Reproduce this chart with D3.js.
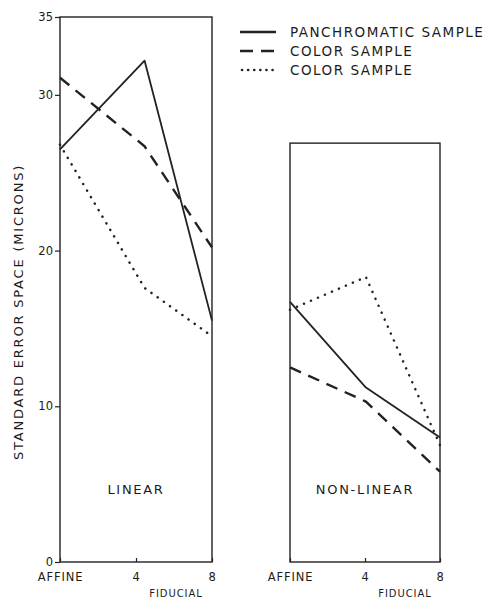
<!DOCTYPE html>
<html>
<head>
<meta charset="utf-8">
<script src="https://cdn.jsdelivr.net/npm/d3@7"></script>
<style>
  body { margin: 0; background: #fff; }
  text { font-family: "DejaVu Sans", sans-serif; fill: #1c1c1c; }
</style>
</head>
<body>
<div id="chart"></div>
<script>
var yTicks = [0, 10, 20, 30, 35]
var xTicks = [0, 4, 8]
var xTickLabels = ['AFFINE', '4', '8']
// 左图 LINEAR
var linearX = [0, 4.45, 8]
var linearPan = [26.5, 32.2, 15.5]
var linearColorDash = [31.1, 26.7, 20.2]
var linearColorDot = [26.8, 17.6, 14.5]
// 右图 NON-LINEAR
var nonLinearX = [0, 4.05, 8]
var nonLinearPan = [16.7, 11.2, 8.0]
var nonLinearColorDash = [12.5, 10.3, 5.8]
var nonLinearColorDot = [16.2, 18.3, 7.5]
var legendLabels = ['PANCHROMATIC SAMPLE', 'COLOR SAMPLE', 'COLOR SAMPLE']

var width = 488
var height = 599
var ink = '#222'
var styles = [
    { width: 1.8, dash: null },
    { width: 2.4, dash: '12,8' },
    { width: 2.5, dash: '0.1,7.5', cap: 'round' }
]

var svg = d3.select('#chart').append('svg')
    .attr('width', width)
    .attr('height', height)

var Y = d3.scaleLinear().domain([0, 35]).range([562, 17])
var XL = d3.scaleLinear().domain([0, 8]).range([60, 212])
var XR = d3.scaleLinear().domain([0, 8]).range([290, 440])

function panel(X, top, xs, series, label) {
    var g = svg.append('g')
    g.append('rect')
        .attr('x', X(0))
        .attr('y', Y(top))
        .attr('width', X(8) - X(0))
        .attr('height', Y(0) - Y(top))
        .attr('fill', 'none')
        .attr('stroke', ink)
        .attr('stroke-width', 1.4)

    var xAxis = g.append('g')
        .attr('transform', 'translate(0,' + Y(0) + ')')
        .call(d3.axisBottom(X).tickValues(xTicks).tickSize(-4).tickPadding(11)
            .tickFormat(function (d, i) { return xTickLabels[i] }))
    xAxis.select('.domain').remove()
    xAxis.selectAll('line').attr('stroke', ink).attr('stroke-width', 1.2)
    xAxis.selectAll('text')
        .attr('font-size', 11.5)
        .attr('fill', '#1c1c1c')
        .attr('letter-spacing', 0.9)

    g.append('text')
        .attr('x', (X(0) + X(8)) / 2)
        .attr('y', 494)
        .attr('text-anchor', 'middle')
        .attr('font-size', 13)
        .attr('letter-spacing', 1.7)
        .text(label)

    g.append('text')
        .attr('x', X(4) + 40)
        .attr('y', 597)
        .attr('text-anchor', 'middle')
        .attr('font-size', 10)
        .attr('letter-spacing', 0.9)
        .text('FIDUCIAL')

    var line = d3.line()
        .x(function (d, i) { return X(xs[i]) })
        .y(function (d) { return Y(d) })

    series.forEach(function (s, i) {
        g.append('path')
            .attr('d', line(s))
            .attr('fill', 'none')
            .attr('stroke', ink)
            .attr('stroke-width', styles[i].width)
            .attr('stroke-dasharray', styles[i].dash)
            .attr('stroke-linecap', styles[i].cap || 'butt')
            .attr('stroke-linejoin', 'round')
    })
}

panel(XL, 35, linearX, [linearPan, linearColorDash, linearColorDot], 'LINEAR')
panel(XR, 26.9, nonLinearX, [nonLinearPan, nonLinearColorDash, nonLinearColorDot], 'NON-LINEAR')

// y轴
var yAxis = svg.append('g')
    .attr('transform', 'translate(' + XL(0) + ',0)')
    .call(d3.axisLeft(Y).tickValues(yTicks).tickSize(5).tickPadding(2))
yAxis.select('.domain').remove()
yAxis.selectAll('line').attr('stroke', ink).attr('stroke-width', 1.2)
yAxis.selectAll('text').attr('font-size', 11.5).attr('fill', '#1c1c1c')

svg.append('text')
    .attr('transform', 'translate(23,312) rotate(-90)')
    .attr('text-anchor', 'middle')
    .attr('font-size', 13)
    .attr('letter-spacing', 1.8)
    .text('STANDARD ERROR SPACE (MICRONS)')

// 图例
var legend = svg.append('g')
    .selectAll('g')
    .data(legendLabels)
    .enter()
    .append('g')
    .attr('transform', function (d, i) { return 'translate(240,' + (32 + i * 19) + ')' })
legend.append('line')
    .attr('x1', function (d, i) { return i == 2 ? 2 : 0 })
    .attr('x2', 36)
    .attr('y1', 0)
    .attr('y2', 0)
    .attr('stroke', ink)
    .attr('stroke-width', function (d, i) { return i == 0 ? 2.4 : 2.6 })
    .attr('stroke-dasharray', function (d, i) { return i == 1 ? '13,8' : (i == 2 ? '0.1,6' : null) })
    .attr('stroke-linecap', function (d, i) { return i == 2 ? 'round' : 'butt' })
legend.append('text')
    .attr('x', 50)
    .attr('y', 5)
    .attr('font-size', 13.5)
    .attr('letter-spacing', 1.5)
    .text(function (d) { return d })
</script>
</body>
</html>
